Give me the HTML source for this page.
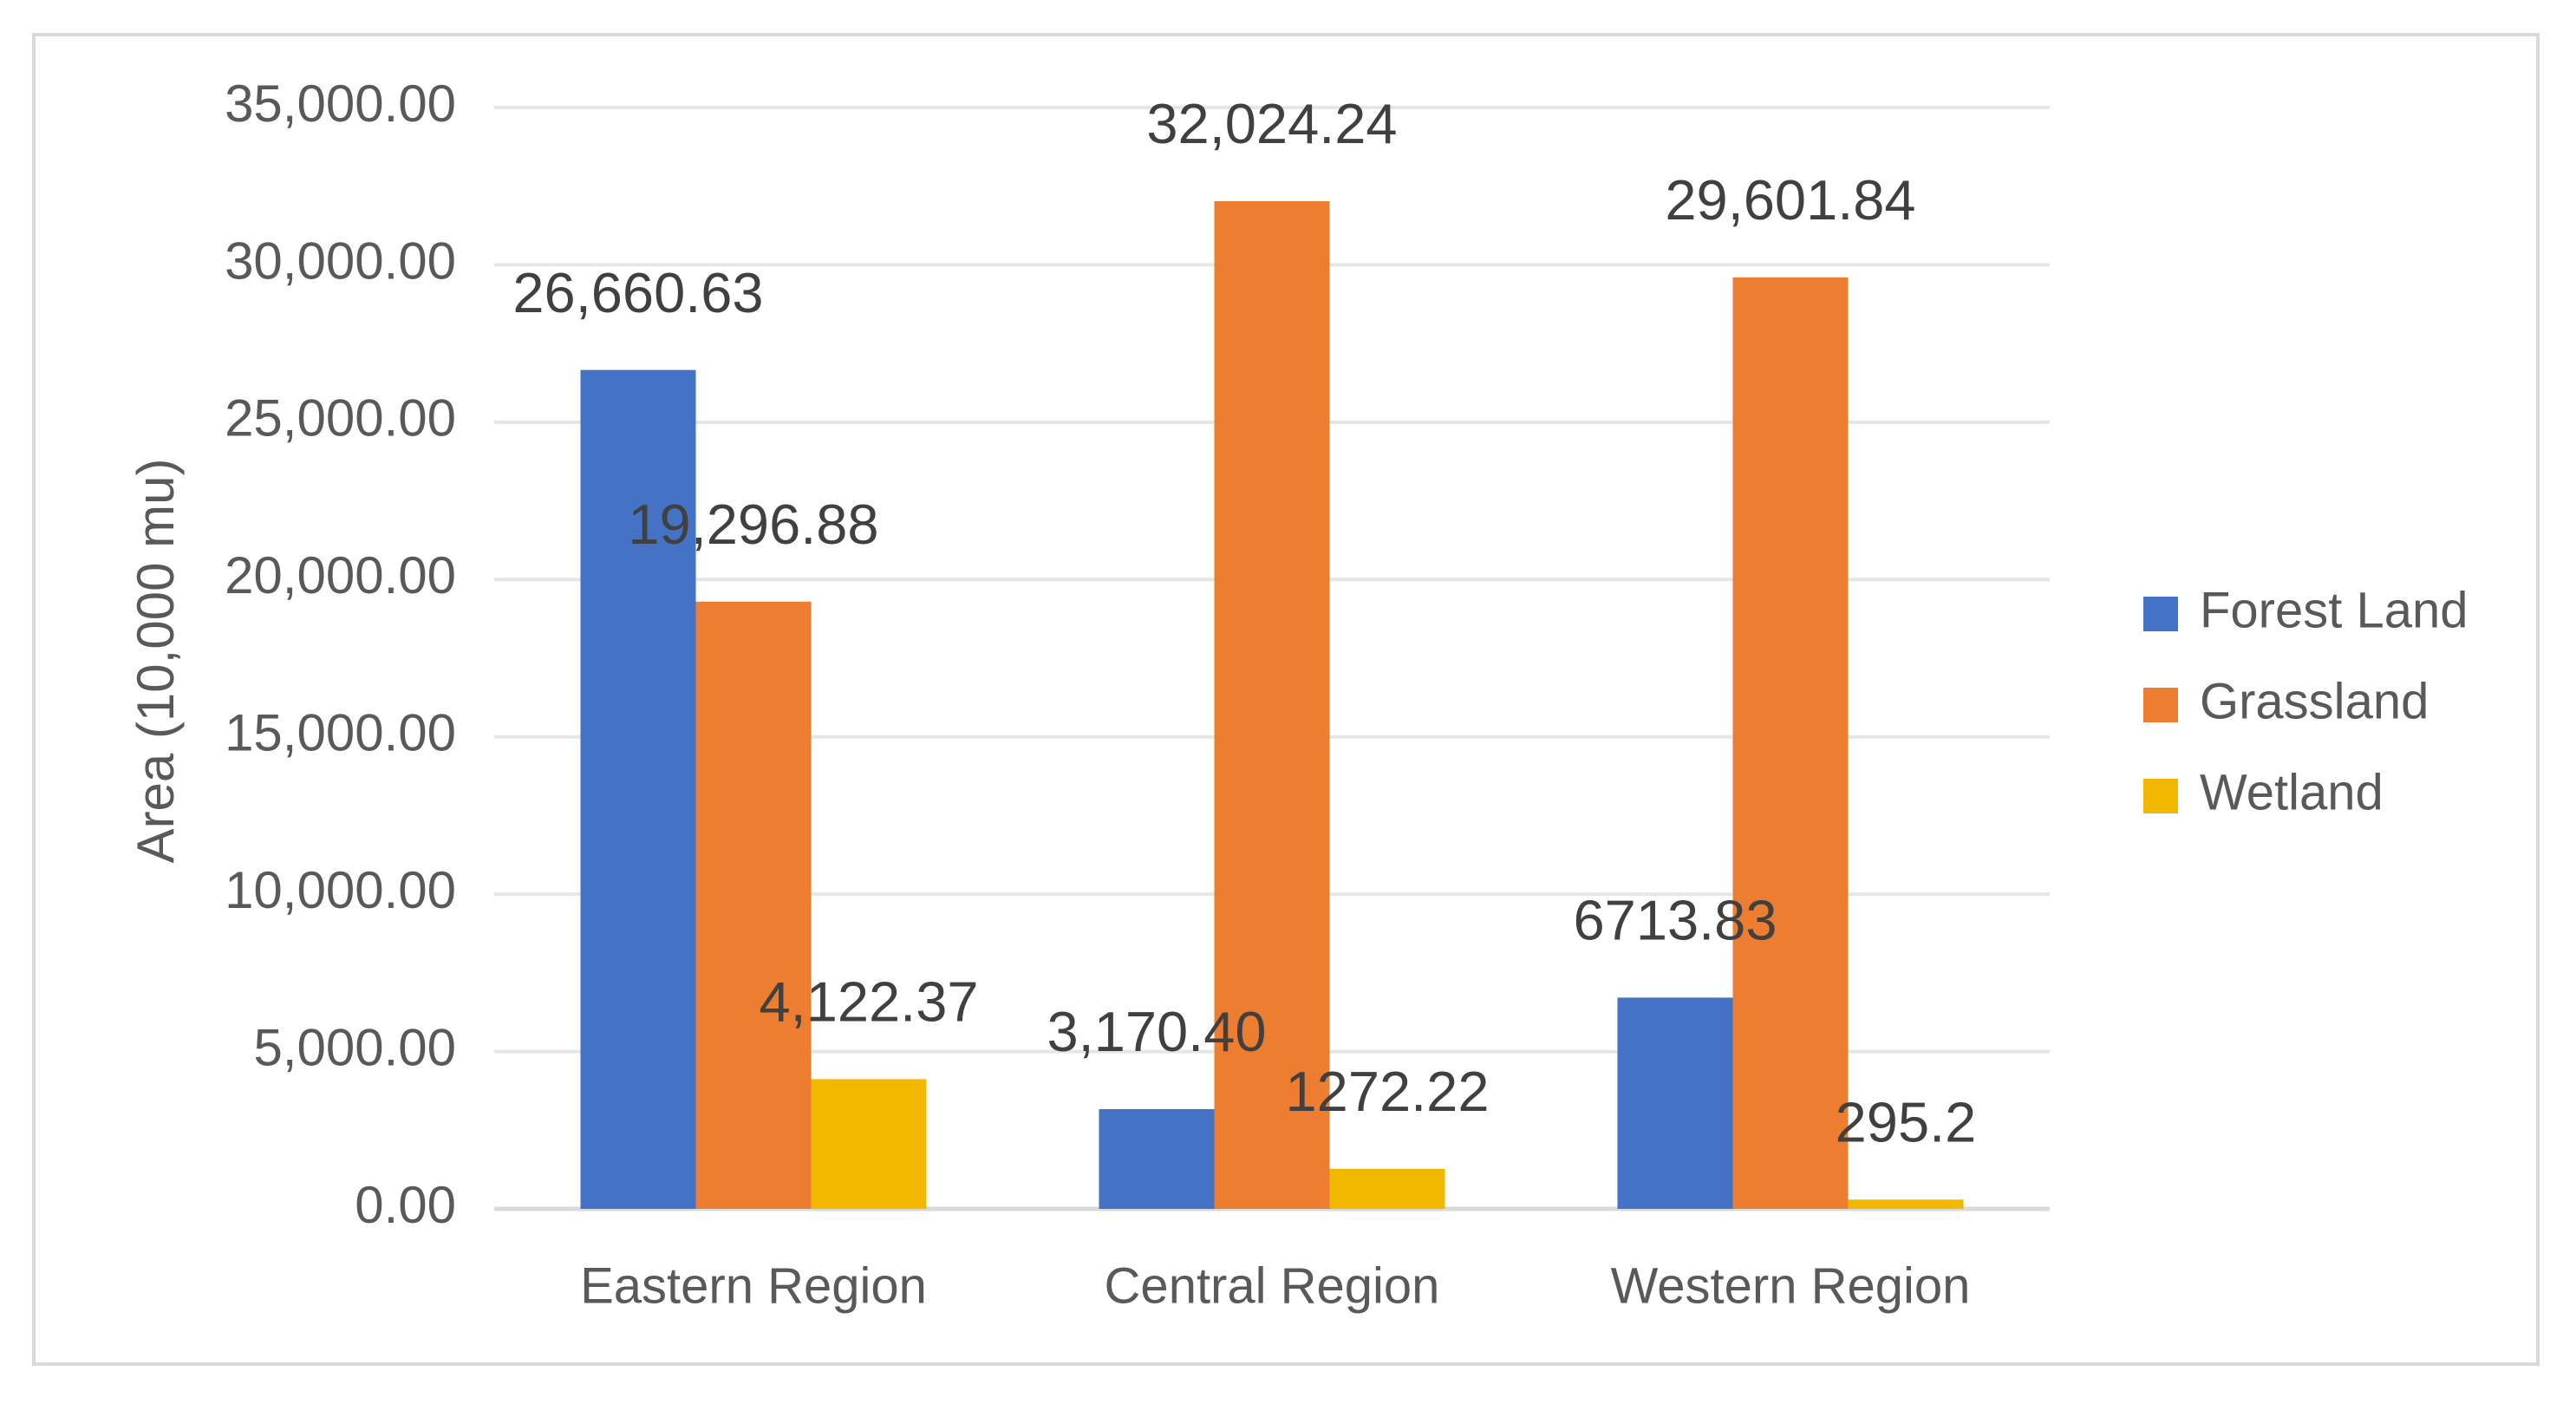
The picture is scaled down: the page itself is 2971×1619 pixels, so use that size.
<!DOCTYPE html>
<html><head><meta charset="utf-8"><style>
html,body{margin:0;padding:0;background:#fff;}
svg{display:block;font-family:"Liberation Sans",sans-serif;}
</style></head><body>
<svg id="chart" width="2971" height="1619" viewBox="0 0 2971 1619" xmlns="http://www.w3.org/2000/svg">
<rect x="39" y="40" width="2888" height="1533" fill="#fff" stroke="#d9d9d9" stroke-width="4"/>
<g id="grid"></g><g id="bars"></g><g id="labels"></g><g id="ticks"></g><g id="cats"></g>
<text x="0" y="0" transform="translate(200,762) rotate(-90)" text-anchor="middle" font-size="60" fill="#595959">Area (10,000 mu)</text>
<g id="legend"></g>
</svg>
<script>
const categories=["Eastern Region","Central Region","Western Region"];
const seriesNames=["Forest Land","Grassland","Wetland"];
const forest=[26660.63,3170.40,6713.83];
const grass=[19296.88,32024.24,29601.84];
const wetland=[4122.37,1272.22,295.2];
const forestLabels=["26,660.63","3,170.40","6713.83"];
const grassLabels=["19,296.88","32,024.24","29,601.84"];
const wetLabels=["4,122.37","1272.22","295.2"];
const ticks=[0,5000,10000,15000,20000,25000,30000,35000];
const tickLabels=["0.00","5,000.00","10,000.00","15,000.00","20,000.00","25,000.00","30,000.00","35,000.00"];
const colors=["#4472c4","#ed7d31","#f2b800"];
const NS="http://www.w3.org/2000/svg";
const X0=570,X1=2364,Y0=1394,Y1=124,YMAX=35000;
const y=v=>Y0-(v/YMAX)*(Y0-Y1);
const catW=(X1-X0)/categories.length;
const barW=133;
const bx=(c,s)=>X0+catW*c+catW/2-1.5*barW+s*barW;
function mk(tag,attrs,parent){const e=document.createElementNS(NS,tag);for(const k in attrs)e.setAttribute(k,attrs[k]);document.getElementById(parent).appendChild(e);return e;}
ticks.forEach((t,i)=>{
  const l=mk('line',{x1:X0,x2:X1,y1:y(t),y2:y(t),stroke:i===0?'#d9d9d9':'#e6e6e6','stroke-width':i===0?5:4},'grid');
  
  
  const tx=mk('text',{x:526,y:y(t),'text-anchor':'end','dominant-baseline':'middle','font-size':60,fill:'#595959'},'ticks');
  tx.textContent=tickLabels[i];
  
  
});
const series=[forest,grass,wetland];
const slabels=[forestLabels,grassLabels,wetLabels];
categories.forEach((c,ci)=>{
  series.forEach((arr,si)=>{
    const r=mk('rect',{x:bx(ci,si),y:y(arr[ci]),width:barW,height:Y0-y(arr[ci]),fill:colors[si]},'bars');
    
    
    const t=mk('text',{x:bx(ci,si)+barW/2,y:y(arr[ci])-84,'text-anchor':'middle','dominant-baseline':'middle','font-size':65,fill:'#404040'},'labels');
    t.textContent=slabels[si][ci];
    
    
  });
  const ct=mk('text',{x:X0+catW*ci+catW/2,y:1487,'text-anchor':'middle','dominant-baseline':'middle','font-size':58,fill:'#595959'},'cats');
  ct.textContent=c;
  
  
});
seriesNames.forEach((n,i)=>{
  const yy=708+i*105;
  const r=mk('rect',{x:2472,y:yy-20,width:40,height:40,fill:colors[i]},'legend');
  
  
  const t=mk('text',{x:2537,y:yy,'dominant-baseline':'middle','font-size':58,fill:'#595959'},'legend');
  t.textContent=n;
  
  
});
</script>
</body></html>
